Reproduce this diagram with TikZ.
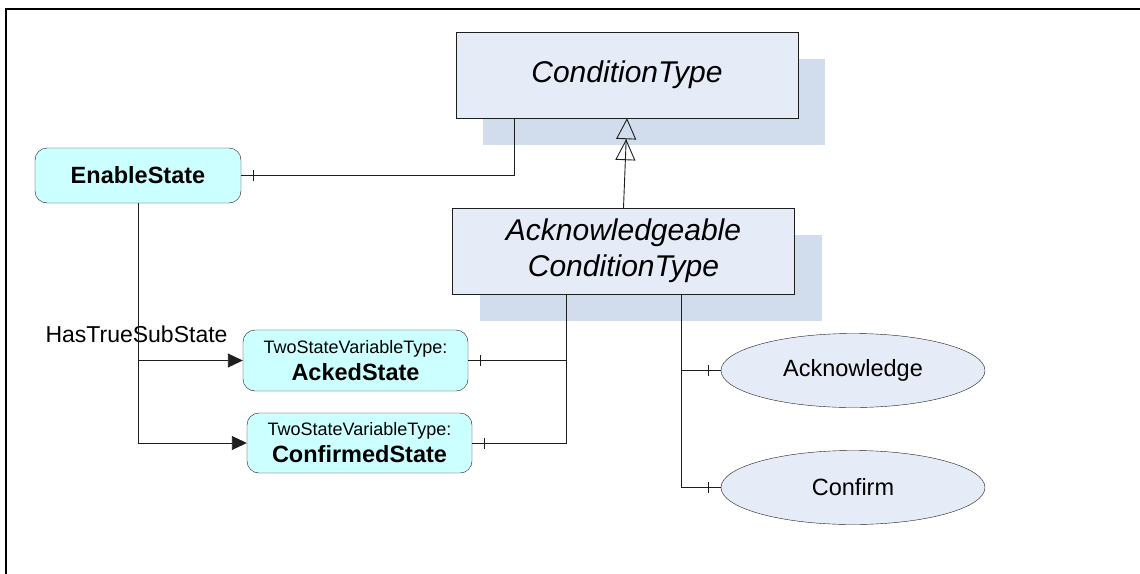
\documentclass[tikz,border=0pt]{standalone}
\usepackage{fontspec}
\setmainfont{Liberation Sans}
\usepackage{xcolor}
\usepackage{tikz}
\usetikzlibrary{arrows.meta, shadows, shapes.geometric, decorations.markings}

\definecolor{classfill}{RGB}{230,236,247}
\definecolor{shadowfill}{RGB}{209,220,237}
\definecolor{varfill}{RGB}{204,255,255}
\definecolor{linegray}{RGB}{30,30,30}

\newcommand{\vartypename}{{\fontsize{18}{27}\selectfont\mdseries TwoStateVariableType:}}

\begin{document}
\begin{tikzpicture}[x = 1pt, y = -1pt,
	classbox/.style = {draw = linegray, fill = classfill, minimum width = 342pt, minimum height = 86pt, inner sep = 0pt, align = center,
		general shadow = {fill = shadowfill, draw = none, shadow xshift = 27pt, shadow yshift = -27pt},
		font = \fontsize{30}{36}\selectfont\itshape},
	varbox/.style = {draw = linegray, fill = varfill, rounded corners = 12pt, inner sep = 0pt, align = center,
		font = \fontsize{23.5}{27}\selectfont\bfseries},
	methodshape/.style = {ellipse, draw = linegray, fill = classfill, minimum width = 264pt, minimum height = 74pt, inner sep = 0pt,
		font = \fontsize{23.5}{26}\selectfont},
	conn/.style = {draw = linegray, line width = 0.9pt},
	endtick/.style = {postaction = {decorate}, decoration = {markings, mark = at position 12pt with {\draw [line width = 0.9pt] (0,-5.5pt) -- (0,5.5pt);}}}]

	\useasboundingbox (0,0) rectangle (1140,573);

	% outer frame
	\draw [line width = 2pt] (6,580) -- (6,9) -- (1146,9);

	% types
	\node [classbox] (condtype) at (627,75) {ConditionType};
	\node [classbox] (ackcond) at (623.5,251) {Acknowledgeable\\ConditionType};

	% variables
	\node [varbox, minimum width = 206pt, minimum height = 55pt] (enable) at (138,175.5) {EnableState};
	\node [varbox, minimum width = 225pt, minimum height = 61pt] (acked) at (355.5,360.5) {\vartypename\\AckedState};
	\node [varbox, minimum width = 225pt, minimum height = 60pt] (confirmed) at (359.5,443) {\vartypename\\ConfirmedState};

	% methods
	\node [methodshape] (acknowledge) at (853,370.5) {Acknowledge};
	\node [methodshape] (confirm) at (853,487.5) {Confirm};

	\node [anchor = base, font = \fontsize{23}{26}\selectfont] (hastrue) at (136.5,342) {HasTrueSubState};

	% subtype
	\draw [conn, -{Triangle[open, length = 21pt, width = 20pt] Triangle[open, length = 21pt, width = 20pt]}] (ackcond.north) -- (condtype.south);

	% components
	\draw [conn, endtick] (enable.east) -| ([xshift = -113pt]condtype.south);
	\draw [conn, endtick] (acked.east) -| ([xshift = -57.5pt]ackcond.south);
	\draw [conn, endtick] (confirmed.east) -| ([xshift = -57.5pt]ackcond.south);
	\draw [conn, endtick] (acknowledge.west) -| ([xshift = 57.5pt]ackcond.south);
	\draw [conn, endtick] (confirm.west) -| ([xshift = 57.5pt]ackcond.south);

	% substates
	\begin{scope}[-{Triangle[length = 15pt, width = 14pt]}]
		\draw [conn] (enable.south) |- (confirmed.west);
		\draw [conn] (enable.south |- acked.west) -- (acked.west);
	\end{scope}
\end{tikzpicture}
\end{document}
